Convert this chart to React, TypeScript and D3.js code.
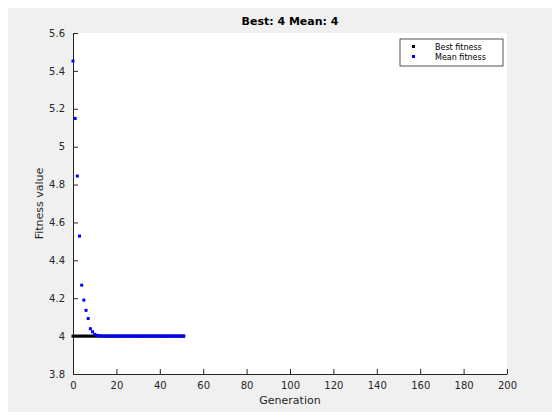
import React, { useEffect, useRef } from 'react';
import * as d3 from 'd3';

// Data
const generations = [
  0, 1, 2, 3, 4, 5, 6, 7, 8, 9, 10, 11, 12, 13, 14, 15, 16, 17, 18, 19, 20, 21, 22, 23, 24, 25,
  26, 27, 28, 29, 30, 31, 32, 33, 34, 35, 36, 37, 38, 39, 40, 41, 42, 43, 44, 45, 46, 47, 48, 49, 50, 51,
];
const bestFitness = [
  4, 4, 4, 4, 4, 4, 4, 4, 4, 4, 4, 4, 4, 4, 4, 4, 4, 4, 4, 4, 4, 4, 4, 4, 4, 4,
  4, 4, 4, 4, 4, 4, 4, 4, 4, 4, 4, 4, 4, 4, 4, 4, 4, 4, 4, 4, 4, 4, 4, 4, 4, 4,
];
const meanFitness = [
  5.452, 5.149, 4.845, 4.528, 4.269, 4.19, 4.136, 4.093, 4.039, 4.023, 4.009, 4.004, 4.002, 4.001,
  4, 4, 4, 4, 4, 4, 4, 4, 4, 4, 4, 4, 4, 4, 4, 4, 4, 4, 4, 4, 4, 4, 4, 4, 4, 4, 4, 4, 4, 4, 4, 4,
  4, 4, 4, 4, 4, 4,
];
const xTicks = [0, 20, 40, 60, 80, 100, 120, 140, 160, 180, 200];
const yTicks = [3.8, 4, 4.2, 4.4, 4.6, 4.8, 5, 5.2, 5.4, 5.6];
const legendLabels = ['Best fitness', 'Mean fitness'];
const seriesColors = ['#000000', '#0000ff'];

function GAChart() {
  const svgRef = useRef<SVGSVGElement>(null);

  useEffect(() => {
    const W = 560;
    const H = 420;
    const margin = { top: 33, right: 53, bottom: 46, left: 73 };
    const width = W - margin.left - margin.right;
    const height = H - margin.top - margin.bottom;
    const font = '"DejaVu Sans", Helvetica, Arial, sans-serif';
    const ink = '#262626';

    const root = d3.select(svgRef.current);
    root.selectAll('*').remove();
    root.attr('width', W).attr('height', H);

    root.append('rect').attr('width', W).attr('height', H).attr('fill', '#f0f0f0');

    const svg = root.append('g').attr('transform', `translate(${margin.left},${margin.top})`);
    svg.append('rect').attr('width', width).attr('height', height).attr('fill', '#ffffff');

    const x = d3.scaleLinear().domain([0, 200]).range([0, width]);
    const y = d3.scaleLinear().domain([3.8, 5.6]).range([height, 0]);

    // X axis
    const xAxis = svg.append('g')
      .attr('transform', `translate(0,${height})`)
      .call(d3.axisBottom(x).tickValues(xTicks).tickSizeInner(-5).tickSizeOuter(0).tickPadding(8)
        .tickFormat(d => d3.format('d')(d as number)));
    xAxis.select('.domain').attr('stroke', ink);
    xAxis.selectAll('.tick line').attr('stroke', ink);
    xAxis.selectAll('.tick text').attr('fill', ink).attr('font-size', 10).attr('font-family', font);

    // Y axis
    const yAxis = svg.append('g')
      .call(d3.axisLeft(y).tickValues(yTicks).tickSizeInner(-5).tickSizeOuter(0).tickPadding(8)
        .tickFormat(d => d3.format('~g')(d as number)));
    yAxis.select('.domain').attr('stroke', ink);
    yAxis.selectAll('.tick line').attr('stroke', ink);
    yAxis.selectAll('.tick text').attr('fill', ink).attr('font-size', 10).attr('font-family', font);

    // Axis labels and title
    svg.append('text')
      .attr('x', width / 2).attr('y', height + 30)
      .attr('text-anchor', 'middle').attr('font-size', 11).attr('font-family', font).attr('fill', ink)
      .text('Generation');
    svg.append('text')
      .attr('transform', `translate(${-30},${height / 2}) rotate(-90)`)
      .attr('text-anchor', 'middle').attr('font-size', 11).attr('font-family', font).attr('fill', ink)
      .text('Fitness value');
    svg.append('text')
      .attr('x', width / 2).attr('y', -8)
      .attr('text-anchor', 'middle').attr('font-size', 11).attr('font-weight', 'bold')
      .attr('font-family', font).attr('fill', '#000')
      .text('Best: 4 Mean: 4');

    // Points
    const series = [bestFitness, meanFitness];
    series.forEach((vals, i) => {
      svg.append('g').selectAll('rect')
        .data(generations)
        .join('rect')
        .attr('x', (g) => x(g) - 1.5)
        .attr('y', (_, j) => y(vals[j]) - 1.5)
        .attr('width', 3)
        .attr('height', 3)
        .attr('fill', seriesColors[i]);
    });

    // Legend
    const lg = svg.append('g').attr('transform', `translate(${width - 107},6)`);
    lg.append('rect').attr('width', 103).attr('height', 27)
      .attr('fill', '#fff').attr('stroke', ink).attr('stroke-width', 0.8);
    legendLabels.forEach((lab, i) => {
      lg.append('rect').attr('x', 12).attr('y', 6 + i * 10).attr('width', 3).attr('height', 3)
        .attr('fill', seriesColors[i]);
      lg.append('text').attr('x', 35).attr('y', 10.5 + i * 10)
        .attr('font-size', 8).attr('font-family', font).attr('fill', '#000')
        .text(lab);
    });
  }, []);

  return <svg ref={svgRef} style={{ display: 'block' }}></svg>;
}

export default function App() {
  return (
    <div style={{ margin: -8 }}>
      <GAChart />
    </div>
  );
}
